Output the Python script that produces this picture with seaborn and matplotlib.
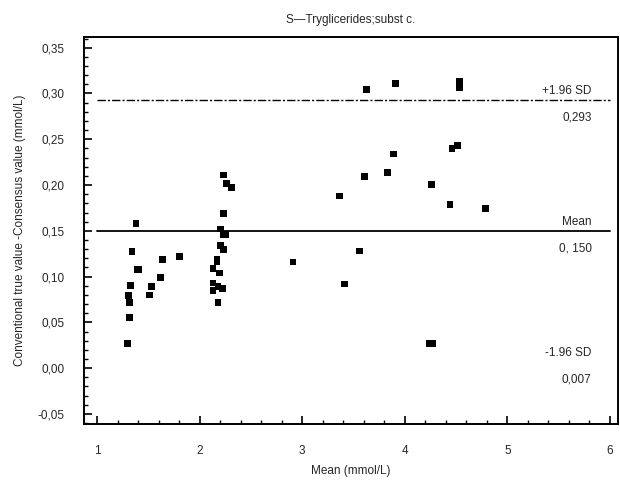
import pandas as pd
import numpy as np
import matplotlib
matplotlib.use("Agg")
import matplotlib.pyplot as plt
from matplotlib.ticker import MultipleLocator, FuncFormatter
import seaborn as sns

# Bland-Altman data
mean_vals = [1.30, 1.32, 1.32, 1.31, 1.33, 1.34, 1.38, 1.39, 1.41, 1.51,
             1.53, 1.62, 1.64, 1.80, 2.13, 2.17, 2.19, 2.13, 2.18, 2.22,
             2.13, 2.18, 2.17, 2.20, 2.23, 2.25, 2.20, 2.23, 2.23, 2.23,
             2.26, 2.31, 2.91, 3.36, 3.41, 3.56, 3.61, 3.63, 3.83, 3.89,
             3.91, 4.24, 4.27, 4.26, 4.44, 4.46, 4.51, 4.53, 4.53, 4.79]
diff_vals = [0.027, 0.055, 0.072, 0.079, 0.090, 0.127, 0.158, 0.108, 0.108, 0.080,
             0.089, 0.099, 0.119, 0.122, 0.109, 0.116, 0.104, 0.093, 0.089, 0.087,
             0.085, 0.072, 0.119, 0.152, 0.146, 0.146, 0.134, 0.130, 0.169, 0.211,
             0.202, 0.197, 0.116, 0.188, 0.092, 0.128, 0.209, 0.304, 0.214, 0.234,
             0.311, 0.027, 0.027, 0.201, 0.179, 0.240, 0.243, 0.313, 0.306, 0.174]

mean_diff = 0.150
upper_loa = 0.293
lower_loa = 0.007
limit_names = ["+1.96 SD", "Mean", "-1.96 SD"]
limit_labels = ["0,293", "0, 150", "0,007"]

df = pd.DataFrame({"mean": mean_vals, "diff": diff_vals})

sns.set_style("ticks")
plt.rcParams["font.family"] = ["Liberation Sans", "DejaVu Sans"]

fig = plt.figure(figsize=(6.2, 4.8), dpi=100)
ax = fig.add_axes([84 / 620, 56 / 480, 534 / 620, 387 / 480])

sns.scatterplot(data=df, x="mean", y="diff", marker="s", s=24, color="black",
                edgecolor="none", linewidth=0, ax=ax, legend=False)

# reference lines (lower limit is not drawn in the original)
ax.plot([1, 6], [upper_loa, upper_loa], color="black", lw=1.0,
        linestyle=(0, (6, 1.5, 1.5, 1.5)))
ax.plot([1, 6], [mean_diff, mean_diff], color="black", lw=1.3)

for name, lab, yv in zip(limit_names, limit_labels, [upper_loa, mean_diff, lower_loa]):
    ax.annotate(name, xy=(5.82, yv), xytext=(0, 6.5), textcoords="offset points",
                ha="right", va="center", fontsize=8.5)
    ax.annotate(lab, xy=(5.82, yv), xytext=(0, -13), textcoords="offset points",
                ha="right", va="center", fontsize=8.5)

ax.xaxis.set_major_locator(MultipleLocator(1))
ax.xaxis.set_minor_locator(MultipleLocator(0.2))
ax.yaxis.set_major_locator(MultipleLocator(0.05))
ax.yaxis.set_minor_locator(MultipleLocator(0.01))
ax.yaxis.set_major_formatter(FuncFormatter(lambda v, p: f"{v:.2f}".replace(".", ",")))
ax.set_xlim(0.873, 6.078)
ax.set_ylim(-0.061, 0.3617)

ax.tick_params(which="major", direction="in", length=6, width=1.2, labelsize=8.5,
               pad=15, color="black", top=False, right=False)
ax.tick_params(which="minor", direction="in", length=3, width=1.0, color="black",
               top=False, right=False)
ax.tick_params(axis="y", which="major", pad=14)

for sp in ax.spines.values():
    sp.set_linewidth(1.4)
    sp.set_color("black")

ax.set_title("S—Tryglicerides;subst c.", fontsize=8.5, pad=10)
ax.set_xlabel("Mean (mmol/L)", fontsize=8.5, labelpad=6)
ax.set_ylabel("Conventional true value -Consensus value (mmol/L)", fontsize=8.5,
              labelpad=8)

fig.savefig("out.png", dpi=100)
